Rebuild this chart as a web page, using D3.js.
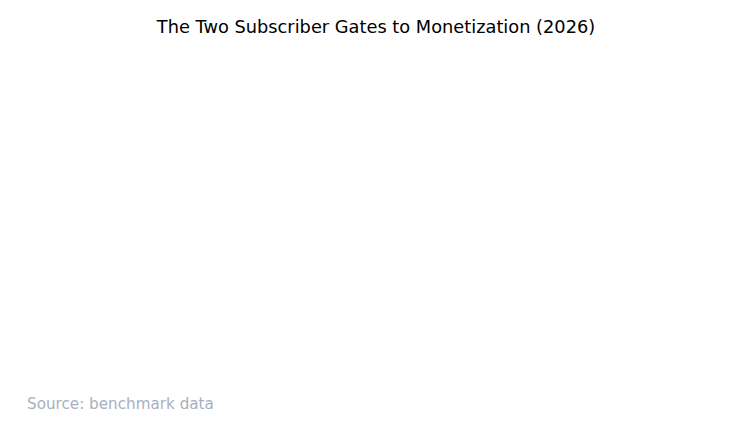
<!DOCTYPE html>
<html>
<head>
<meta charset="utf-8">
<script src="https://cdn.jsdelivr.net/npm/d3@7"></script>
<style>
  html, body { margin: 0; padding: 0; background: #ffffff; }
  svg { display: block; font-family: "DejaVu Sans", sans-serif; }
</style>
</head>
<body>
<svg id="chart"></svg>
<script>
// texts of the chart (the plot area of the reference is empty)
const titleText = 'The Two Subscriber Gates to Monetization (2026)'
const sourceText = 'Source: benchmark data'

const width = 752, height = 432

const svg = d3.select('#chart')
    .attr('width', width)
    .attr('height', height)

svg.append('rect')
    .attr('width', width)
    .attr('height', height)
    .attr('fill', '#ffffff')

/* titre */
svg.append('text')
    .attr('x', width / 2)
    .attr('y', 33)
    .attr('text-anchor', 'middle')
    .style('font-size', '17.8px')
    .attr('fill', '#000000')
    .text(titleText)

/* source */
svg.append('text')
    .attr('x', 27)
    .attr('y', 409)
    .style('font-size', '15.2px')
    .attr('fill', '#a9b0c0')
    .text(sourceText)
</script>
</body>
</html>
